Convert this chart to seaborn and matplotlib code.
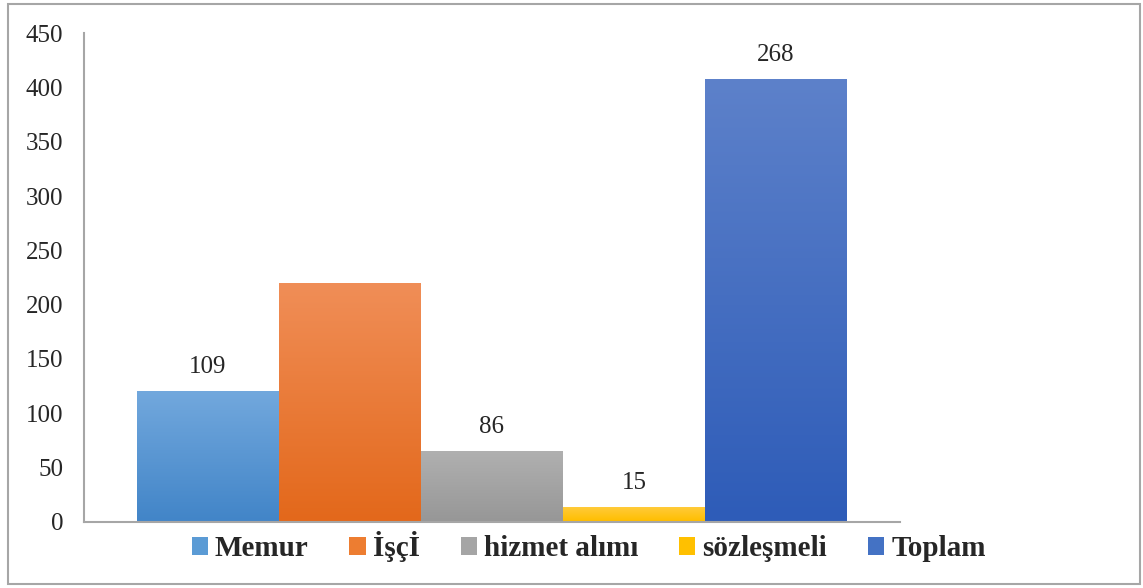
import matplotlib
matplotlib.use("Agg")
import numpy as np
import pandas as pd
import matplotlib.pyplot as plt
import seaborn as sns
from matplotlib.colors import LinearSegmentedColormap
from matplotlib.patches import Rectangle, Patch

# veriler (çubuk yükseklikleri ve üstteki etiketler)
kategoriler = ["Memur", "İşçİ", "hizmet alımı", "sözleşmeli", "Toplam"]
degerler = [119, 219, 64, 12, 407]
etiketler = ["109", "", "86", "15", "268"]
yticks = [0, 50, 100, 150, 200, 250, 300, 350, 400, 450]

renk_orta = ["#5B9BD5", "#ED7D31", "#A5A5A5", "#FFC000", "#4472C4"]
renk_ust = ["#72A8DD", "#F08E57", "#B0B0B0", "#FFCB3A", "#5D81CA"]
renk_alt = ["#4285C8", "#E3681B", "#979797", "#FFBE00", "#2E5CB8"]

sns.set_style("white")
plt.rcParams["font.family"] = ["Liberation Serif", "DejaVu Serif"]

df = pd.DataFrame({"grup": [""] * len(kategoriler),
                   "kategori": kategoriler,
                   "deger": degerler})

fig = plt.figure(figsize=(11.43, 5.88), dpi=100)
ax = fig.add_axes([84 / 1143, 66.5 / 588, 816 / 1143, 488 / 588])

sns.barplot(data=df, x="grup", y="deger", hue="kategori", hue_order=kategoriler,
            palette=renk_orta, width=0.87, saturation=1, legend=False, ax=ax)

# dikey renk geçişi
grad = np.linspace(0, 1, 200).reshape(-1, 1)
for p, ust, alt in zip(ax.patches, renk_ust, renk_alt):
    x0, y0, w, h = p.get_x(), p.get_y(), p.get_width(), p.get_height()
    cmap = LinearSegmentedColormap.from_list("g", [alt, ust])
    ax.imshow(grad, extent=[x0, x0 + w, y0, y0 + h], origin="lower",
              cmap=cmap, aspect="auto", zorder=p.get_zorder() + 0.1)

for p, t in zip(ax.patches, etiketler):
    if t:
        ax.annotate(t, (p.get_x() + p.get_width() / 2, p.get_height()),
                    xytext=(0, 18), textcoords="offset points",
                    ha="center", va="center", fontsize=18, color="#262626")

ax.set_xlim(-0.5, 0.5)
ax.set_ylim(0, 450)
ax.set_yticks(yticks)
ax.set_xticks([])
ax.set_xlabel("")
ax.set_ylabel("")
ax.tick_params(axis="y", length=0, pad=15, labelsize=18, labelcolor="#262626")
for s in ["top", "right"]:
    ax.spines[s].set_visible(False)
for s in ["left", "bottom"]:
    ax.spines[s].set_color("#A6A6A6")
    ax.spines[s].set_linewidth(1.5)

handles = [Patch(facecolor=c, edgecolor="none") for c in renk_orta]
fig.legend(handles, kategoriler, loc="center", bbox_to_anchor=(0.515, 0.07),
           ncol=5, frameon=False, borderpad=0,
           prop={"family": ["Liberation Serif", "DejaVu Serif"], "weight": "bold", "size": 21},
           handlelength=0.55, handleheight=0.55, handletextpad=0.25, columnspacing=1.4)

fig.add_artist(Rectangle((8 / 1143, 4 / 588), 1132 / 1143, 580 / 588,
                         transform=fig.transFigure, fill=False,
                         edgecolor="#A6A6A6", linewidth=1.5))

fig.savefig("out.png", dpi=100)
